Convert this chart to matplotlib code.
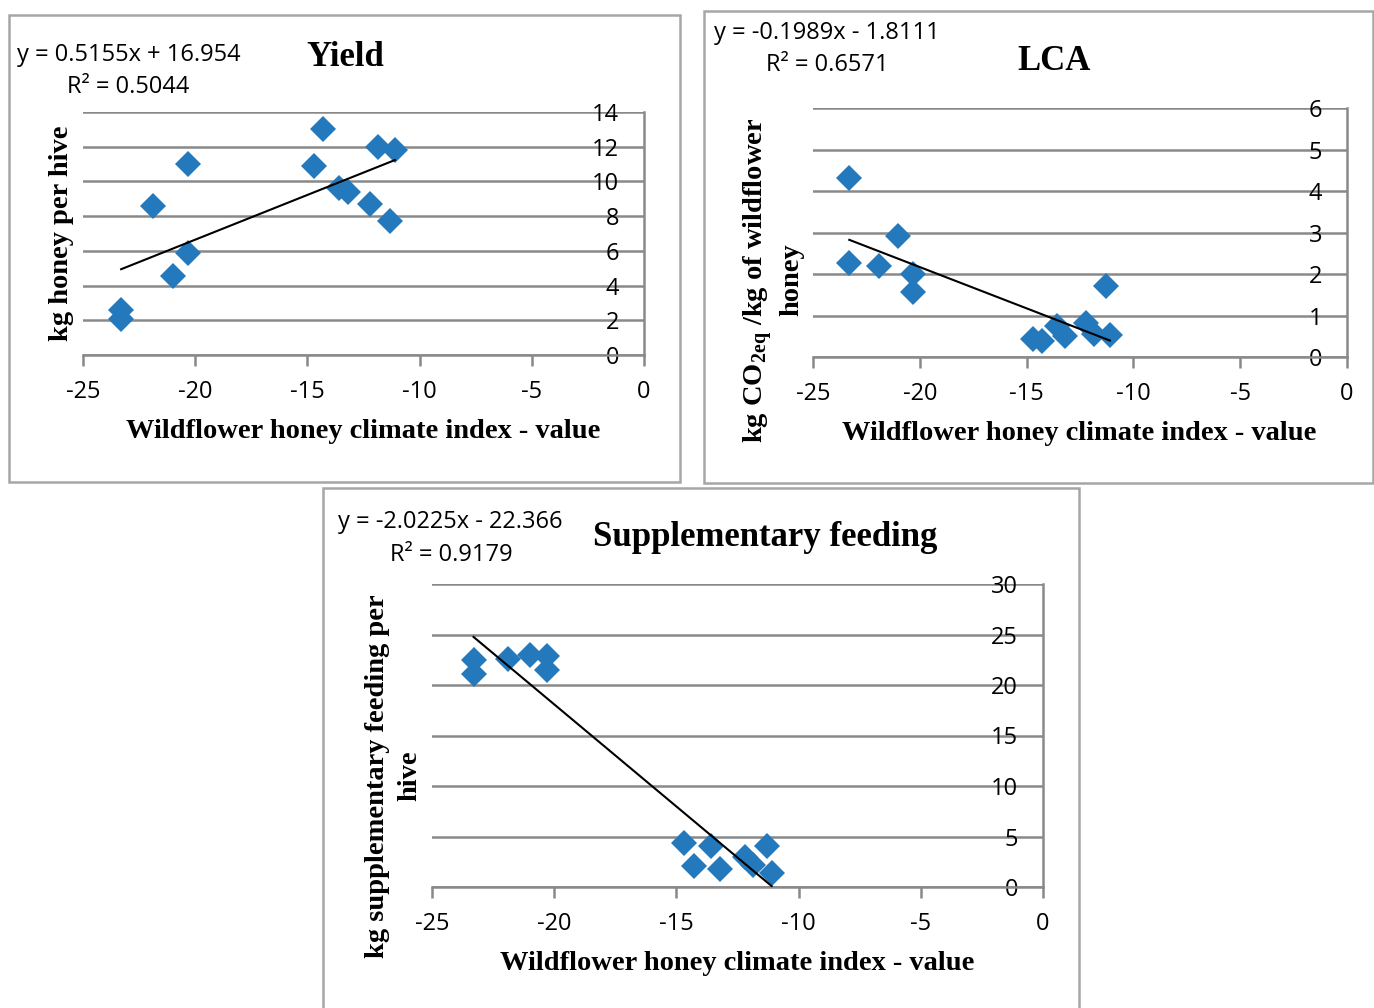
import matplotlib
matplotlib.use("Agg")
import matplotlib.pyplot as plt
from matplotlib.patches import Rectangle

plt.rcParams["axes.unicode_minus"] = False

# climate index values (x) shared by the three panels
climate_index = [-23.3, -23.3, -21.9, -21.0, -20.3, -20.3, -14.7,
                 -14.3, -13.6, -13.2, -12.2, -11.85, -11.3, -11.1]

yield_kg = [2.6, 2.1, 8.6, 4.55, 11.0, 5.9, 10.9,
            13.0, 9.6, 9.4, 8.7, 12.0, 7.7, 11.8]
lca_co2 = [4.31, 2.27, 2.19, 2.92, 1.57, 2.0, 0.43,
           0.39, 0.75, 0.5, 0.82, 0.55, 1.71, 0.53]
feeding_kg = [22.5, 21.1, 22.6, 23.0, 22.9, 21.5, 4.36,
              2.1, 4.06, 1.8, 3.0, 2.2, 4.06, 1.4]

# trendline coefficients as printed on the chart
fits = {
    "yield": (0.5155, 16.954, "y = 0.5155x + 16.954", "R² = 0.5044"),
    "lca": (-0.1989, -1.8111, "y = -0.1989x - 1.8111", "R² = 0.6571"),
    "feed": (-2.0225, -22.366, "y = -2.0225x - 22.366", "R² = 0.9179"),
}

W, H = 1374, 1008
fig = plt.figure(figsize=(W / 100, H / 100), dpi=100)

BLUE = "#2479bd"
GRID = "#898989"
SANS = "Open Sans"
SERIF = "Liberation Serif"


def fx(px):
    return px / W


def fy(py):
    return 1 - py / H


def panel(x0, x1, y0, y1, yvals, ymax, ystep, key):
    ax = fig.add_axes([fx(x0), fy(y1), fx(x1 - x0), (y1 - y0) / H])
    ax.set_xlim(-25, 0)
    ax.set_ylim(0, ymax)
    ax.set_xticks(range(-25, 1, 5))
    ax.set_yticks(range(0, ymax + 1, ystep))
    for s in ["top", "right"]:
        ax.spines[s].set_visible(False)
    ax.spines["left"].set_position(("data", 0))
    for s in ["left", "bottom"]:
        ax.spines[s].set_color(GRID)
        ax.spines[s].set_linewidth(1.8)
    ax.yaxis.grid(True, color=GRID, linewidth=1.8)
    ax.set_axisbelow(True)
    ax.tick_params(axis="y", direction="in", length=0, pad=18,
                   labelsize=17, colors=GRID, labelcolor="black")
    ax.tick_params(axis="x", direction="out", length=8, width=1.8, pad=10,
                   labelsize=17, colors=GRID, labelcolor="black")
    for lab in ax.get_xticklabels() + ax.get_yticklabels():
        lab.set_family(SANS)
    ax.patch.set_alpha(0)
    ax.plot(climate_index, yvals, "D", color=BLUE, markersize=13,
            markeredgewidth=0, clip_on=False, zorder=3)
    m, b = fits[key][0], fits[key][1]
    xs = [min(climate_index), max(climate_index)]
    ax.plot(xs, [m * v + b for v in xs], color="black", linewidth=1.5, zorder=4)
    return ax


def box(x0, y0, x1, y1):
    fig.patches.append(Rectangle((fx(x0), fy(y1)), fx(x1 - x0), (y1 - y0) / H,
                                 transform=fig.transFigure, fill=False,
                                 edgecolor="#a6a6a6", linewidth=1.8))


box(9, 15, 680, 482)
box(704, 11, 1373, 483)
box(323, 488, 1079, 1010)

panel(83, 644, 112, 355, yield_kg, 14, 2, "yield")
panel(813, 1347, 108, 357, lca_co2, 6, 1, "lca")
panel(432, 1043, 584, 887, feeding_kg, 30, 5, "feed")

title_kw = dict(family=SERIF, weight="bold", fontsize=25, ha="center", va="center")
xl_kw = dict(family=SERIF, weight="bold", fontsize=20.5, ha="center", va="center")
eq_kw = dict(family=SANS, fontsize=17, ha="left", va="center")

# panel 1
fig.text(fx(345), fy(58), "Yield", **title_kw)
fig.text(fx(17), fy(55), fits["yield"][2], **eq_kw)
fig.text(fx(67), fy(87), fits["yield"][3], **eq_kw)
fig.text(fx(363), fy(432), "Wildflower honey climate index - value", **xl_kw)
fig.text(fx(62), fy(233), "kg honey per hive", rotation=90, **xl_kw)

# panel 2
fig.text(fx(1054), fy(61), "LCA", **title_kw)
fig.text(fx(714), fy(33), fits["lca"][2], **eq_kw)
fig.text(fx(766), fy(65), fits["lca"][3], **eq_kw)
fig.text(fx(1079), fy(434), "Wildflower honey climate index - value", **xl_kw)
fig.text(fx(758), fy(280), "kg CO$_{\\mathregular{2eq}}$ /kg of wildflower",
         rotation=90, **xl_kw)
fig.text(fx(792), fy(280), "honey", rotation=90, **xl_kw)

# panel 3
fig.text(fx(765), fy(537), "Supplementary feeding", **title_kw)
fig.text(fx(338), fy(522), fits["feed"][2], **eq_kw)
fig.text(fx(390), fy(555), fits["feed"][3], **eq_kw)
fig.text(fx(737), fy(963), "Wildflower honey climate index - value", **xl_kw)
fig.text(fx(377), fy(776), "kg supplementary feeding per", rotation=90, **xl_kw)
fig.text(fx(410), fy(776), "hive", rotation=90, **xl_kw)

fig.savefig("out.png", dpi=100)
